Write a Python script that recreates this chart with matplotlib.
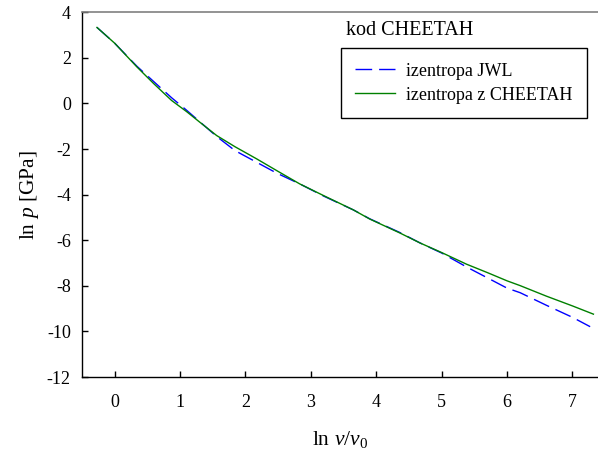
import numpy as np
import matplotlib
matplotlib.use('Agg')
import matplotlib.pyplot as plt
from matplotlib.pyplot import rcParams

rcParams['font.family'] = 'serif'
rcParams['font.serif'] = ['Liberation Serif']
rcParams['mathtext.fontset'] = 'custom'
rcParams['mathtext.rm'] = 'Liberation Serif'
rcParams['mathtext.it'] = 'Liberation Serif:italic'
rcParams['font.size'] = 13

# ln(v/v0) and ln p
x_cheetah = [-0.27, 0.0, 0.34, 0.6, 0.87, 1.1, 1.3, 1.56, 1.84, 2.17, 2.48, 2.83,
             3.2, 3.65, 3.9, 4.36, 4.67, 5.0, 5.38, 5.7, 6.0, 6.2, 6.6, 7.0, 7.32]
y_cheetah = [3.33, 2.64, 1.60, 0.86, 0.13, -0.36, -0.82, -1.41, -1.90, -2.43, -2.95, -3.53,
             -4.05, -4.67, -5.07, -5.68, -6.12, -6.54, -7.05, -7.42, -7.78, -7.99, -8.45, -8.88, -9.24]

x_jwl = [-0.27, 0.0, 0.34, 0.6, 0.87, 1.1, 1.3, 1.56, 1.84, 2.17, 2.48, 2.83,
         3.2, 3.65, 3.9, 4.36, 4.67, 5.0, 5.38, 5.7, 6.0, 6.2, 6.6, 7.0, 7.27]
y_jwl = [3.33, 2.64, 1.63, 0.95, 0.25, -0.30, -0.80, -1.45, -2.07, -2.58, -3.06, -3.53,
         -4.07, -4.67, -5.06, -5.66, -6.12, -6.56, -7.17, -7.65, -8.10, -8.30, -8.85, -9.38, -9.79]

xticks = [0, 1, 2, 3, 4, 5, 6, 7]
yticks = [4, 2, 0, -2, -4, -6, -8, -10, -12]

fig = plt.figure(figsize=(5.98, 4.5), dpi=100)
ax = fig.add_axes([0.137, 0.162, 0.863, 0.811])

ax.plot(x_jwl, y_jwl, color='#0000ff', linewidth=1.0, dashes=(12, 5), label='izentropa JWL')
ax.plot(x_cheetah, y_cheetah, color='#008000', linewidth=1.0, label='izentropa z CHEETAH')

ax.set_xlim(-0.5, 7.39)
ax.set_ylim(-12, 4)
ax.set_xticks(xticks)
ax.set_yticks(yticks)
ax.set_yticklabels([str(t) for t in yticks])
ax.tick_params(direction='in', length=4, width=1, top=False, right=False)
ax.tick_params(axis='x', pad=12)
ax.tick_params(axis='y', pad=8)

ax.spines['right'].set_visible(False)
ax.spines['top'].set_color('#808080')
ax.spines['top'].set_linewidth(1.2)
ax.spines['left'].set_linewidth(1.0)
ax.spines['bottom'].set_linewidth(1.0)

ax.set_ylabel(r'ln $\it{p}$ [GPa]', fontsize=15.5, labelpad=4)
ax.set_xlabel(r'ln $\it{v}/\it{v}_0$', fontsize=15.5, labelpad=13)

leg = ax.legend(loc='upper left', bbox_to_anchor=(0.502, 0.901), borderaxespad=0,
                fancybox=False, framealpha=1, edgecolor='black', handlelength=2.2,
                handletextpad=0.6, borderpad=0.8, labelspacing=0.38)
leg.get_frame().set_linewidth(1.0)
ax.text(0.511, 0.925, 'kod CHEETAH', transform=ax.transAxes, fontsize=14.5, va='bottom', ha='left')

fig.savefig('out.png', dpi=100)
